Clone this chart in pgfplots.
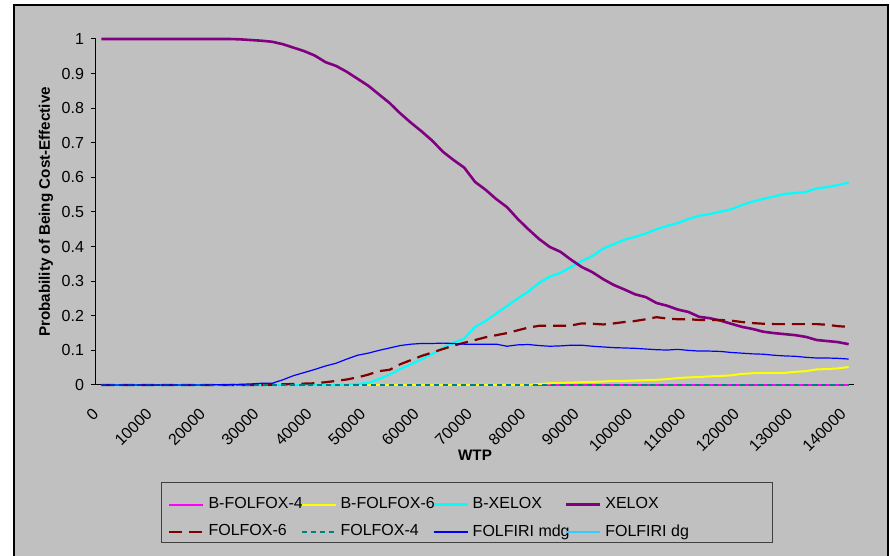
\documentclass[border=0pt]{standalone}
\usepackage{pgfplots}
\pgfplotsset{compat=1.18}
\usepackage{pgfplotstable}
\usepackage{fontspec}
\setmainfont{Liberation Sans}
\definecolor{bg}{HTML}{C0C0C0}
\definecolor{cMag}{HTML}{FF00FF}
\definecolor{cYel}{HTML}{FFFF00}
\definecolor{cCyan}{HTML}{00FFFF}
\definecolor{cPur}{HTML}{800080}
\definecolor{cRed}{HTML}{800000}
\definecolor{cTeal}{HTML}{008080}
\definecolor{cBlue}{HTML}{0000FF}
\definecolor{cSky}{HTML}{33CCFF}

\pgfplotstableread{
w bff4 bff6 bx xel ff6 ff4 mdg dg
0 0 0 0 1 0 0 0 0
2000 0 0 0 1 0 0 0 0
4000 0 0 0 1 0 0 0 0
6000 0 0 0 1 0 0 0 0
8000 0 0 0 1 0 0 0 0
10000 0 0 0 1 0 0 0 0
12000 0 0 0 1 0 0 0 0
14000 0 0 0 1 0 0 0 0
16000 0 0 0 1 0 0 0 0
18000 0 0 0 1 0 0 0 0
20000 0 0 0 1 0 0 0 0
22000 0 0 0 1 0 0 0.001 0
24000 0 0 0 1 0 0 0.001 0
26000 0 0 0 0.999 0 0 0.002 0
28000 0 0 0 0.997 0 0 0.003 0
30000 0 0 0 0.995 0 0 0.005 0
32000 0 0 0 0.992 0.001 0 0.005 0
34000 0 0 0 0.985 0.002 0 0.015 0
36000 0 0 0 0.975 0.003 0 0.027 0
38000 0 0 0 0.965 0.004 0 0.036 0
40000 0 0 0 0.952 0.005 0 0.045 0
42000 0 0 0 0.933 0.008 0 0.055 0
44000 0 0 0 0.922 0.012 0 0.063 0
46000 0 0 0.001 0.905 0.016 0 0.075 0
48000 0 0 0.003 0.885 0.022 0 0.086 0
50000 0 0 0.006 0.865 0.030 0 0.092 0
52000 0 0 0.017 0.840 0.040 0 0.100 0
54000 0 0 0.030 0.815 0.044 0 0.107 0
56000 0 0 0.046 0.785 0.060 0 0.114 0
58000 0 0 0.060 0.758 0.072 0 0.118 0
60000 0 0 0.074 0.733 0.084 0 0.120 0
62000 0 0 0.090 0.706 0.094 0 0.120 0
64000 0 0 0.108 0.674 0.104 0 0.121 0
66000 0 0 0.122 0.650 0.114 0 0.120 0
68000 0 0 0.134 0.628 0.122 0 0.118 0
70000 0 0 0.168 0.587 0.130 0 0.118 0
72000 0 0 0.185 0.564 0.138 0 0.118 0
74000 0 0 0.207 0.537 0.144 0 0.118 0
76000 0 0 0.228 0.514 0.150 0 0.112 0
78000 0 0 0.250 0.480 0.158 0 0.116 0
80000 0 0 0.270 0.450 0.166 0 0.117 0
82000 0 0.003 0.295 0.422 0.171 0 0.114 0
84000 0 0.005 0.313 0.399 0.171 0 0.112 0
86000 0 0.006 0.324 0.385 0.171 0 0.113 0
88000 0 0.007 0.341 0.362 0.172 0 0.115 0
90000 0 0.008 0.358 0.341 0.178 0 0.115 0
92000 0 0.009 0.373 0.326 0.177 0 0.112 0
94000 0 0.010 0.394 0.306 0.175 0 0.110 0
96000 0 0.012 0.407 0.289 0.178 0 0.108 0
98000 0 0.012 0.420 0.276 0.182 0 0.107 0
100000 0 0.013 0.428 0.262 0.185 0 0.106 0
102000 0 0.014 0.438 0.254 0.190 0 0.104 0
104000 0 0.015 0.450 0.237 0.196 0 0.102 0
106000 0 0.017 0.460 0.229 0.192 0 0.101 0
108000 0 0.020 0.468 0.218 0.190 0 0.103 0
110000 0 0.022 0.480 0.211 0.190 0 0.100 0
112000 0 0.023 0.489 0.197 0.188 0 0.098 0
114000 0 0.025 0.494 0.193 0.188 0 0.098 0
116000 0 0.026 0.501 0.186 0.188 0 0.097 0
118000 0 0.028 0.508 0.177 0.186 0 0.094 0
120000 0 0.032 0.520 0.168 0.182 0 0.092 0
122000 0 0.034 0.530 0.162 0.179 0 0.090 0
124000 0 0.035 0.538 0.154 0.177 0 0.089 0
126000 0 0.035 0.545 0.150 0.176 0 0.086 0
128000 0 0.035 0.552 0.147 0.176 0 0.084 0
130000 0 0.038 0.555 0.144 0.176 0 0.083 0
132000 0 0.040 0.558 0.139 0.176 0 0.080 0
134000 0 0.045 0.568 0.130 0.176 0 0.078 0
136000 0 0.046 0.572 0.127 0.174 0 0.078 0
138000 0 0.048 0.578 0.124 0.170 0 0.077 0
140000 0 0.052 0.585 0.118 0.168 0 0.075 0
}\datatable

\begin{document}
\begin{tikzpicture}
\useasboundingbox (-48pt,-85.5pt) rectangle (397pt,192.5pt);
\fill[white] (-48pt,-85.5pt) rectangle (397pt,192.5pt);
\filldraw[fill=bg, draw=black, line width=0.8pt] (-41pt,-90pt) rectangle (396pt,190pt);
\begin{axis}[
  at={(0,0)}, anchor=south west,
  width=379pt, height=173pt, scale only axis,
  xmin=-1000, xmax=141000, ymin=0, ymax=1,
  clip=false,
  axis lines*=left,
  axis line style={black, line width=0.5pt},
  every tick/.style={black, line width=0.5pt},
  tick align=outside,
  major tick length=2.5pt, minor tick length=2.5pt,
  scaled x ticks=false, scaled y ticks=false,
  xtick={0,10000,...,140000},
  xticklabels={0,10000,20000,30000,40000,50000,60000,70000,80000,90000,100000,110000,120000,130000,140000},
  xtick style={draw=none},
  minor xtick={-1000,1000,...,141000},
  ytick={0,0.1,...,1.01},
  yticklabels={0,0.1,0.2,0.3,0.4,0.5,0.6,0.7,0.8,0.9,1},
  tick label style={font=\fontsize{8}{9}\selectfont},
  x tick label style={rotate=45, anchor=east, yshift=-5.5pt, xshift=-6pt},
  xlabel={\textbf{WTP}},
  ylabel={\textbf{Probability of Being Cost-Effective}},
  label style={font=\fontsize{7.6}{9}\selectfont},
  x label style={at={(axis description cs:0.5,-0.202)}, anchor=center},
  y label style={at={(axis description cs:-0.066,0.5)}, anchor=center},
  legend columns=4,
  legend image code/.code={\draw[#1] (0pt,0pt) -- (17pt,0pt);},
  legend style={draw=none, fill=none, at={(axis description cs:0.087,-0.3007)}, anchor=north west,
    font=\fontsize{8}{9}\selectfont, row sep=2.5pt},
  legend cell align=left,
]
\addplot[cSky, line width=0.6pt, forget plot] table[x=w, y=dg] {\datatable};
\addplot[cMag, line width=1pt] table[x=w, y=bff4] {\datatable};
\addlegendentry{\makebox[44pt][l]{B-FOLFOX-4}}
\addplot[cYel, line width=1pt] table[x=w, y=bff6] {\datatable};
\addlegendentry{\makebox[44pt][l]{B-FOLFOX-6}}
\addplot[cCyan, line width=1.1pt] table[x=w, y=bx] {\datatable};
\addlegendentry{\makebox[44pt][l]{B-XELOX}}
\addplot[cPur, line width=1.3pt] table[x=w, y=xel] {\datatable};
\addlegendentry{\makebox[44pt][l]{XELOX}}
\addplot[cRed, line width=1.1pt, dash pattern=on 6.5pt off 3.5pt] table[x=w, y=ff6] {\datatable};
\addlegendentry{\makebox[44pt][l]{FOLFOX-6}}
\addplot[cTeal, line width=0.8pt, dash pattern=on 2.5pt off 2pt] table[x=w, y=ff4] {\datatable};
\addlegendentry{\makebox[44pt][l]{FOLFOX-4}}
\addplot[cBlue, line width=0.6pt] table[x=w, y=mdg] {\datatable};
\addlegendentry{\makebox[44pt][l]{FOLFIRI mdg}}
\addlegendimage{cSky, line width=0.6pt}
\addlegendentry{\makebox[44pt][l]{FOLFIRI dg}}
\end{axis}
\draw[black!75, line width=0.5pt] (32.5pt,-49pt) rectangle (338pt,-79pt);
\end{tikzpicture}
\end{document}
